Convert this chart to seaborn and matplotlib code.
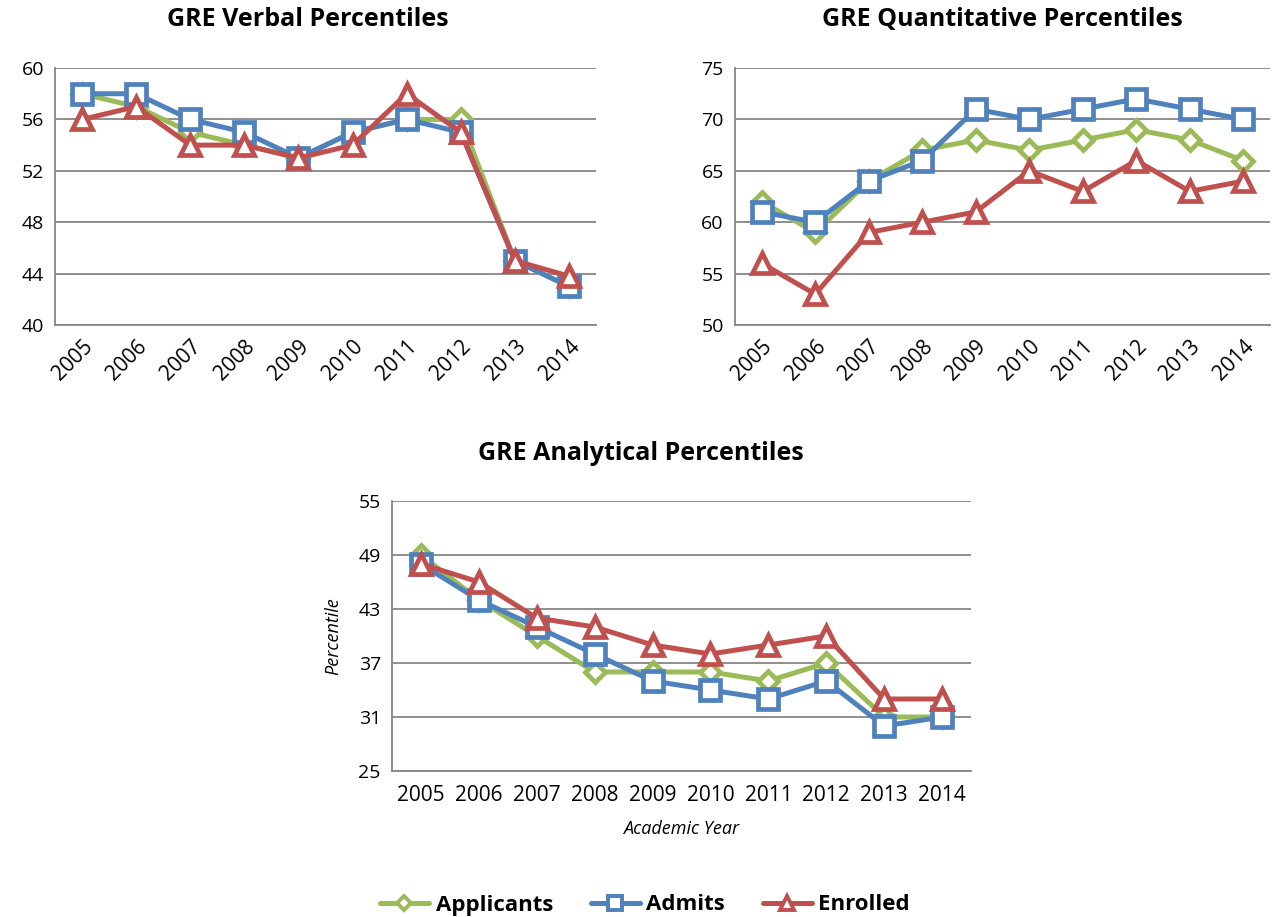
import matplotlib
matplotlib.use('Agg')
import matplotlib.pyplot as plt
from matplotlib.lines import Line2D
import seaborn as sns
import pandas as pd

# data
years = ['2005', '2006', '2007', '2008', '2009', '2010', '2011', '2012', '2013', '2014']
series_names = ['Applicants', 'Admits', 'Enrolled']

verbal_applicants = [58, 57, 55, 54, 53, 55, 56, 56, 45, 43]
verbal_admits = [58, 58, 56, 55, 53, 55, 56, 55, 45, 43]
verbal_enrolled = [56, 57, 54, 54, 53, 54, 58, 55, 45, 43.8]

quant_applicants = [62, 59, 64, 67, 68, 67, 68, 69, 68, 66]
quant_admits = [61, 60, 64, 66, 71, 70, 71, 72, 71, 70]
quant_enrolled = [56, 53, 59, 60, 61, 65, 63, 66, 63, 64]

anal_applicants = [49, 44, 40, 36, 36, 36, 35, 37, 31, 31]
anal_admits = [48, 44, 41, 38, 35, 34, 33, 35, 30, 31]
anal_enrolled = [48, 46, 42, 41, 39, 38, 39, 40, 33, 33]

colors = {'Applicants': '#9BBB59', 'Admits': '#4F81BD', 'Enrolled': '#C0504D'}
markers = {'Applicants': 'D', 'Admits': 's', 'Enrolled': '^'}
msizes = {'Applicants': 10, 'Admits': 14, 'Enrolled': 14}

sns.set_style('white')
plt.rcParams['font.family'] = ['Open Sans', 'DejaVu Sans']
plt.rcParams['text.color'] = 'black'
plt.rcParams['xtick.color'] = 'black'
plt.rcParams['ytick.color'] = 'black'
plt.rcParams['axes.labelcolor'] = 'black'


def long_df(a, b, c):
    rows = []
    for name, vals in zip(series_names, [a, b, c]):
        for i, v in enumerate(vals):
            rows.append({'pos': i, 'value': v, 'series': name})
    return pd.DataFrame(rows)


def draw(ax, df, ylim, yticks, rotate):
    sns.lineplot(data=df, x='pos', y='value', hue='series', style='series',
                 palette=colors, markers=markers, dashes=False, linewidth=3.6,
                 markerfacecolor='white', markeredgewidth=3.4, legend=False,
                 ax=ax, zorder=3)
    for line in ax.lines:
        c = matplotlib.colors.to_hex(line.get_color())
        line.set_markeredgecolor(c)
        line.set_markerfacecolor('white')
        lbl = [n for n in series_names if colors[n].lower() == c.lower()]
        if lbl:
            line.set_markersize(msizes[lbl[0]])
    ax.set_xlim(-0.5, 9.5)
    ax.set_ylim(*ylim)
    ax.set_yticks(yticks)
    ax.set_yticklabels([str(t) for t in yticks], fontsize=14)
    ax.set_xticks(range(10))
    if rotate:
        ax.set_xticklabels(years, fontsize=15, rotation=45, ha='right',
                           rotation_mode='anchor')
        ax.tick_params(axis='x', which='major', length=0, pad=8)
    else:
        ax.set_xticklabels(years, fontsize=15)
        ax.tick_params(axis='x', which='major', length=0, pad=10)
    ax.set_xticks([i - 0.5 for i in range(11)], minor=True)
    ax.tick_params(axis='x', which='minor', length=7, width=1.3, color='#868686')
    ax.tick_params(axis='y', length=0, pad=8)
    ax.yaxis.grid(True, color='#868686', linewidth=1.3)
    ax.set_axisbelow(True)
    for s in ['top', 'right']:
        ax.spines[s].set_visible(False)
    for s in ['left', 'bottom']:
        ax.spines[s].set_color('#868686')
        ax.spines[s].set_linewidth(1.3)
    ax.set_xlabel('')
    ax.set_ylabel('')


fig = plt.figure(figsize=(12.86, 9.17), dpi=100)

ax1 = fig.add_axes([0.0428, 0.6456, 0.4207, 0.2802])
draw(ax1, long_df(verbal_applicants, verbal_admits, verbal_enrolled),
     (40, 60), [40, 44, 48, 52, 56, 60], True)

ax2 = fig.add_axes([0.5715, 0.6456, 0.4161, 0.2802])
draw(ax2, long_df(quant_applicants, quant_admits, quant_enrolled),
     (50, 75), [50, 55, 60, 65, 70, 75], True)

ax3 = fig.add_axes([0.3048, 0.1592, 0.4503, 0.2945])
draw(ax3, long_df(anal_applicants, anal_admits, anal_enrolled),
     (25, 55), [25, 31, 37, 43, 49, 55], False)
ax3.set_xlabel('Academic Year', fontsize=13, style='italic', labelpad=10)
ax3.set_ylabel('Percentile', fontsize=13, style='italic', labelpad=12)

fig.text(308 / 1286, 1 - 20 / 917, 'GRE Verbal Percentiles', ha='center', va='center',
         fontsize=18, fontweight='bold')
fig.text(1002 / 1286, 1 - 20 / 917, 'GRE Quantitative Percentiles', ha='center', va='center',
         fontsize=18, fontweight='bold')
fig.text(641 / 1286, 1 - 453 / 917, 'GRE Analytical Percentiles', ha='center', va='center',
         fontsize=18, fontweight='bold')

handles = [Line2D([0], [0], color=colors[n], marker=markers[n], markersize=msizes[n] * 0.7,
                  markerfacecolor='white', markeredgecolor=colors[n], markeredgewidth=2.8,
                  linewidth=3.6) for n in series_names]
fig.legend(handles, series_names, loc='center', bbox_to_anchor=(645 / 1286, 1 - 905 / 917),
           ncol=3, frameon=False, prop={'weight': 'bold', 'size': 16},
           handlelength=2.2, columnspacing=1.7, handletextpad=0.3)

fig.savefig('out.png', dpi=100)
